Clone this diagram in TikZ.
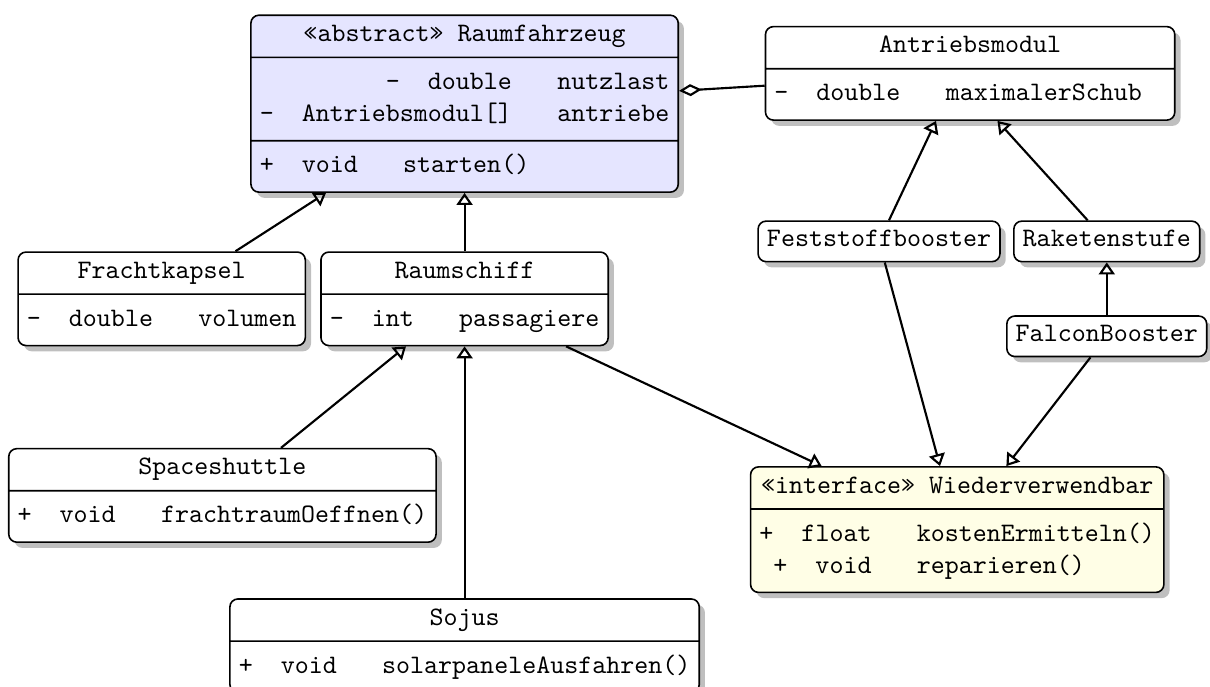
\documentclass[tikz,border=0pt]{standalone}
\usepackage{fontspec}
\usetikzlibrary{shapes,arrows.meta,shadows}

% class title with a fixed height, and member rows (visibility + type | name)
\newcommand{\umlname}[1]{\vphantom{Ag}#1}
\newcommand{\umlrows}[1]{\begin{tabular}{@{}r@{\hspace{17pt}}l@{}}#1\end{tabular}}

\begin{document}
\begin{tikzpicture}
        % class diagram of the spacecraft model
        \tikzstyle{umlbox} = [draw,line width=0.6pt,rounded corners=3pt,fill=white,drop shadow,font=\ttfamily];
        \tikzstyle{umlclass} = [umlbox,rectangle split,rectangle split part align={center,left,left},anchor=north];
        \tikzstyle{inherit} = [-{Triangle[open,length=4.5pt,width=6pt]},line width=0.8pt];
        \tikzstyle{aggregate} = [-{Diamond[open,length=8.5pt,width=4.5pt]},line width=0.8pt];

        \useasboundingbox (0,0) rectangle (15.94,9.04);

        \node[umlclass,rectangle split parts=3,fill=blue!10] (raumfahrzeug) at (6.12,8.85) {\umlname{«abstract» Raumfahrzeug}
                \nodepart{two}\umlrows{-\ \ double & nutzlast\\ -\ \ Antriebsmodul[] & antriebe}
                \nodepart{three}\umlrows{+\ \ void & starten()}};
        \node[umlclass,rectangle split parts=2] (antriebsmodul) at (12.78,8.70) {\umlname{Antriebsmodul}
                \nodepart{two}\umlrows{-\ \ double & maximalerSchub\kern9pt}};
        \node[umlclass,rectangle split parts=2] (frachtkapsel) at (2.13,5.73) {\umlname{Frachtkapsel}
                \nodepart{two}\umlrows{-\ \ double & volumen}};
        \node[umlclass,rectangle split parts=2] (raumschiff) at (6.12,5.73) {\umlname{Raumschiff}
                \nodepart{two}\umlrows{-\ \ int & passagiere}};
        \node[umlclass,rectangle split parts=2] (spaceshuttle) at (2.93,3.14) {\umlname{Spaceshuttle}
                \nodepart{two}\umlrows{+\ \ void & frachtraumOeffnen()}};
        \node[umlclass,rectangle split parts=2] (sojus) at (6.12,1.16) {\umlname{Sojus}
                \nodepart{two}\umlrows{+\ \ void & solarpaneleAusfahren()}};
        \node[umlclass,rectangle split parts=2,fill=yellow!10] (wiederverwendbar) at (12.61,2.90) {\umlname{«interface» Wiederverwendbar}
                \nodepart{two}\umlrows{+\ \ float & kostenErmitteln()\\ +\ \ void & reparieren()}};

        \node[umlbox] (feststoffbooster) at (11.58,5.86) {\umlname{Feststoffbooster}};
        \node[umlbox] (raketenstufe) at (14.58,5.86) {\umlname{Raketenstufe}};
        \node[umlbox] (falconbooster) at (14.58,4.61) {\umlname{FalconBooster}};

        \draw[aggregate] (antriebsmodul) -- (raumfahrzeug);
        \draw[inherit] (frachtkapsel) -- (raumfahrzeug);
        \draw[inherit] (raumschiff) -- (raumfahrzeug);
        \draw[inherit] (spaceshuttle) -- (raumschiff);
        \draw[inherit] (sojus) -- (raumschiff);
        \draw[inherit] (raumschiff) -- (wiederverwendbar);

        \draw[inherit] (feststoffbooster) -- ([xshift=-0.45cm]antriebsmodul.south);
        \draw[inherit] (raketenstufe) -- ([xshift=0.36cm]antriebsmodul.south);
        \draw[inherit] (falconbooster) -- (raketenstufe);
        \draw[inherit] (feststoffbooster) -- (wiederverwendbar);
        \draw[inherit] (falconbooster) -- (wiederverwendbar);

    \end{tikzpicture}
\end{document}
